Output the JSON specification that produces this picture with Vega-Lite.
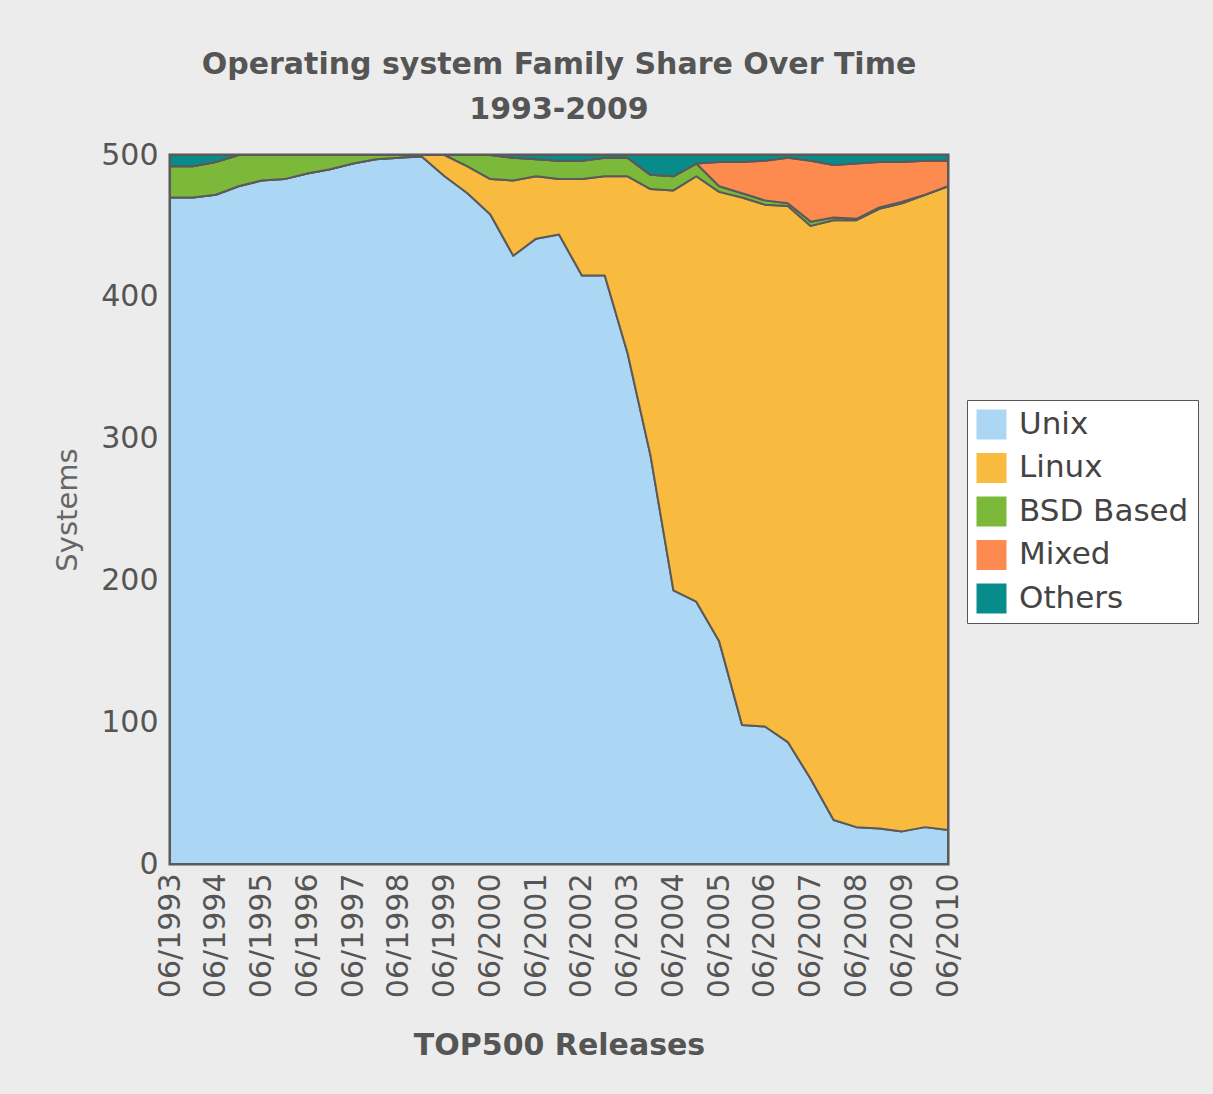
{
  "$schema": "https://vega.github.io/schema/vega-lite/v6.json",
  "width": 778,
  "height": 709,
  "autosize": "none",
  "padding": {"left": 170, "top": 155, "right": 265, "bottom": 230},
  "background": "#ececec",
  "title": {
    "text": ["Operating system Family Share Over Time", "1993-2009"],
    "font": "DejaVu Sans",
    "fontSize": 30,
    "fontWeight": "bold",
    "color": "#555555",
    "lineHeight": 45,
    "anchor": "middle",
    "offset": 15
  },
  "config": {
    "view": {"stroke": "#555555", "strokeWidth": 3},
    "font": "DejaVu Sans"
  },
  "data": {
    "values": [
      {"r": "06/1993", "Unix": 470, "Linux": 0, "BSD Based": 22, "Mixed": 0, "Others": 8},
      {"r": "11/1993", "Unix": 470, "Linux": 0, "BSD Based": 22, "Mixed": 0, "Others": 8},
      {"r": "06/1994", "Unix": 472, "Linux": 0, "BSD Based": 23, "Mixed": 0, "Others": 5},
      {"r": "11/1994", "Unix": 478, "Linux": 0, "BSD Based": 22, "Mixed": 0, "Others": 0},
      {"r": "06/1995", "Unix": 482, "Linux": 0, "BSD Based": 18, "Mixed": 0, "Others": 0},
      {"r": "11/1995", "Unix": 483, "Linux": 0, "BSD Based": 17, "Mixed": 0, "Others": 0},
      {"r": "06/1996", "Unix": 487, "Linux": 0, "BSD Based": 13, "Mixed": 0, "Others": 0},
      {"r": "11/1996", "Unix": 490, "Linux": 0, "BSD Based": 10, "Mixed": 0, "Others": 0},
      {"r": "06/1997", "Unix": 494, "Linux": 0, "BSD Based": 6, "Mixed": 0, "Others": 0},
      {"r": "11/1997", "Unix": 497, "Linux": 0, "BSD Based": 3, "Mixed": 0, "Others": 0},
      {"r": "06/1998", "Unix": 498, "Linux": 0, "BSD Based": 2, "Mixed": 0, "Others": 0},
      {"r": "11/1998", "Unix": 499, "Linux": 1, "BSD Based": 0, "Mixed": 0, "Others": 0},
      {"r": "06/1999", "Unix": 485, "Linux": 15, "BSD Based": 0, "Mixed": 0, "Others": 0},
      {"r": "11/1999", "Unix": 473, "Linux": 19, "BSD Based": 8, "Mixed": 0, "Others": 0},
      {"r": "06/2000", "Unix": 458, "Linux": 25, "BSD Based": 17, "Mixed": 0, "Others": 0},
      {"r": "11/2000", "Unix": 429, "Linux": 53, "BSD Based": 16, "Mixed": 0, "Others": 2},
      {"r": "06/2001", "Unix": 441, "Linux": 44, "BSD Based": 12, "Mixed": 0, "Others": 3},
      {"r": "11/2001", "Unix": 444, "Linux": 39, "BSD Based": 13, "Mixed": 0, "Others": 4},
      {"r": "06/2002", "Unix": 415, "Linux": 68, "BSD Based": 13, "Mixed": 0, "Others": 4},
      {"r": "11/2002", "Unix": 415, "Linux": 70, "BSD Based": 13, "Mixed": 0, "Others": 2},
      {"r": "06/2003", "Unix": 360, "Linux": 125, "BSD Based": 13, "Mixed": 0, "Others": 2},
      {"r": "11/2003", "Unix": 288, "Linux": 188, "BSD Based": 10, "Mixed": 0, "Others": 14},
      {"r": "06/2004", "Unix": 193, "Linux": 282, "BSD Based": 10, "Mixed": 0, "Others": 15},
      {"r": "11/2004", "Unix": 185, "Linux": 300, "BSD Based": 9, "Mixed": 0, "Others": 6},
      {"r": "06/2005", "Unix": 157, "Linux": 317, "BSD Based": 4, "Mixed": 17, "Others": 5},
      {"r": "11/2005", "Unix": 98, "Linux": 372, "BSD Based": 3, "Mixed": 22, "Others": 5},
      {"r": "06/2006", "Unix": 97, "Linux": 368, "BSD Based": 3, "Mixed": 28, "Others": 4},
      {"r": "11/2006", "Unix": 86, "Linux": 378, "BSD Based": 2, "Mixed": 32, "Others": 2},
      {"r": "06/2007", "Unix": 60, "Linux": 390, "BSD Based": 3, "Mixed": 43, "Others": 4},
      {"r": "11/2007", "Unix": 31, "Linux": 423, "BSD Based": 2, "Mixed": 37, "Others": 7},
      {"r": "06/2008", "Unix": 26, "Linux": 428, "BSD Based": 1, "Mixed": 39, "Others": 6},
      {"r": "11/2008", "Unix": 25, "Linux": 437, "BSD Based": 1, "Mixed": 32, "Others": 5},
      {"r": "06/2009", "Unix": 23, "Linux": 443, "BSD Based": 1, "Mixed": 28, "Others": 5},
      {"r": "11/2009", "Unix": 26, "Linux": 446, "BSD Based": 0, "Mixed": 24, "Others": 4},
      {"r": "06/2010", "Unix": 24, "Linux": 454, "BSD Based": 0, "Mixed": 18, "Others": 4}
    ]
  },
  "transform": [
    {"fold": ["Unix", "Linux", "BSD Based", "Mixed", "Others"], "as": ["os", "n"]},
    {"calculate": "indexof(['Unix', 'Linux', 'BSD Based', 'Mixed', 'Others'], datum.os)", "as": "ord"}
  ],
  "mark": {"type": "area", "stroke": "#5a5a5a", "strokeWidth": 2, "strokeJoin": "round"},
  "encoding": {
    "x": {
      "field": "r",
      "type": "ordinal",
      "sort": null,
      "scale": {"type": "point", "padding": 0},
      "axis": {
        "values": ["06/1993", "06/1994", "06/1995", "06/1996", "06/1997", "06/1998", "06/1999", "06/2000", "06/2001", "06/2002", "06/2003", "06/2004", "06/2005", "06/2006", "06/2007", "06/2008", "06/2009", "06/2010"],
        "labelAngle": 270,
        "labelFont": "DejaVu Sans",
        "labelFontSize": 30,
        "labelColor": "#555555",
        "ticks": false,
        "domain": false,
        "labelPadding": 9,
        "title": "TOP500 Releases",
        "titleFont": "DejaVu Sans",
        "titleFontSize": 30,
        "titleFontWeight": "bold",
        "titleColor": "#555555",
        "titlePadding": 33
      }
    },
    "y": {
      "field": "n",
      "type": "quantitative",
      "stack": "zero",
      "scale": {"domain": [0, 500], "nice": false},
      "axis": {
        "values": [0, 100, 200, 300, 400, 500],
        "grid": false,
        "ticks": false,
        "domain": false,
        "labelFont": "DejaVu Sans",
        "labelFontSize": 30,
        "labelColor": "#555555",
        "labelPadding": 12,
        "title": "Systems",
        "titleFont": "DejaVu Sans",
        "titleFontSize": 29,
        "titleFontWeight": "normal",
        "titleColor": "#666666",
        "titlePadding": 18
      }
    },
    "order": {"field": "ord", "type": "quantitative", "sort": "ascending"},
    "color": {
      "field": "os",
      "type": "nominal",
      "sort": ["Unix", "Linux", "BSD Based", "Mixed", "Others"],
      "scale": {
        "domain": ["Unix", "Linux", "BSD Based", "Mixed", "Others"],
        "range": ["#abd7f4", "#f9ba40", "#7cb83a", "#fd8a4f", "#088b8b"]
      },
      "legend": {
        "orient": "none",
        "legendX": 797,
        "legendY": 245,
        "title": null,
        "symbolType": "square",
        "symbolSize": 900,
        "symbolStrokeWidth": 0,
        "symbolOpacity": 1,
        "labelFont": "DejaVu Sans",
        "labelFontSize": 31,
        "labelColor": "#444444",
        "labelOffset": 12,
        "labelLimit": 300,
        "rowPadding": 11.5,
        "padding": 9,
        "fillColor": "#ffffff",
        "strokeColor": "#555555"
      }
    }
  }
}
